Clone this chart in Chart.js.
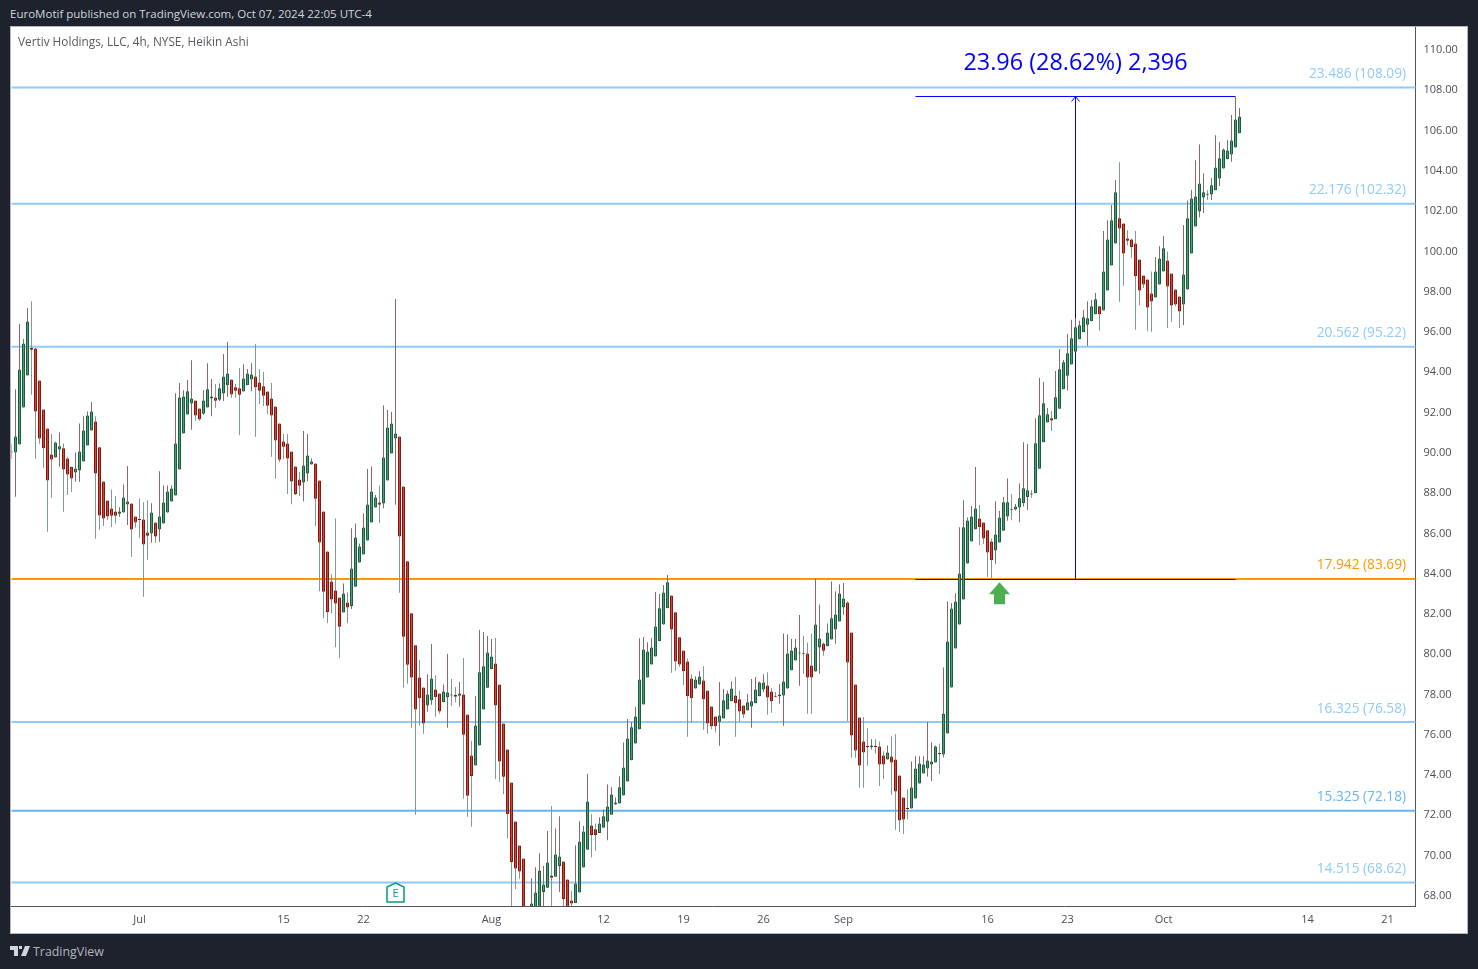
<!DOCTYPE html>
<html>
<head>
<meta charset="utf-8">
<title>Vertiv Holdings, LLC, 4h, NYSE, Heikin Ashi</title>
<script src="https://cdn.jsdelivr.net/npm/chart.js@4"></script>
<style>
  html, body { margin: 0; padding: 0; background: #1e222d; width: 1478px; height: 969px; overflow: hidden; }
  body { font-family: "Open Sans", "Noto Sans", sans-serif; position: relative; }
  #cabecalho { position: absolute; left: 10px; top: 6px; font-size: 11.53px; line-height: 16px; color: #d1d4dc; white-space: nowrap; }
  #quadro { position: absolute; left: 10px; top: 26px; width: 1456px; height: 906px; border: 1px solid #b2b5be; background: #fff; }
  #grafico { display: block; }
  #simbolo { position: absolute; left: 7px; top: 6px; font-size: 11.8px; line-height: 16px; color: #555963; white-space: nowrap; }
  #rodape { position: absolute; left: 10px; top: 944px; height: 16px; color: #b2b5be; font-size: 12.4px; line-height: 16px; white-space: nowrap; }
  #rodape svg { position: absolute; left: 0; top: 2px; }
  #rodape span { position: absolute; left: 23px; top: 0; }
</style>
</head>
<body>
<div id="cabecalho">EuroMotif published on TradingView.com, Oct 07, 2024 22:05 UTC-4</div>
<div id="quadro">
  <canvas id="grafico" width="1456" height="906"></canvas>
  <div id="simbolo">Vertiv Holdings, LLC, 4h, NYSE, Heikin Ashi</div>
</div>
<div id="rodape">
  <svg width="20" height="10" viewBox="0 0 20 10"><path d="M0 0h8v10H4V4H0zM9 0h3v3H9zM15 0h5l-4 10h-5z" fill="#d1d4dc"/></svg>
  <span>TradingView</span>
</div>
<script>
// Heikin Ashi candles (one per 4h bar)
const opens = [
  89.97,89.97,90.36,92.20,93.79,95.15,95.13,93.54,92.10,91.16,
  89.87,89.72,90.12,90.17,89.67,89.26,88.97,89.07,89.52,90.31,
  91.06,91.51,90.22,88.53,87.58,87.19,87.04,86.92,86.99,87.38,
  87.43,86.79,86.65,86.64,85.99,85.94,86.49,86.14,86.44,86.99,
  87.53,87.83,89.12,90.91,91.85,92.40,92.55,92.15,91.89,92.20,
  92.65,92.70,92.58,92.90,93.30,93.59,93.20,93.15,92.99,93.30,
  93.59,93.74,93.44,93.25,92.99,92.65,92.25,91.41,90.51,90.41,
  90.02,89.27,88.63,88.48,88.92,89.37,89.42,88.58,87.04,85.05,
  83.56,83.11,82.76,82.02,82.52,82.35,83.30,84.50,84.90,85.60,
  86.49,87.24,87.48,87.43,88.58,89.92,90.66,90.76,88.28,84.56,
  81.98,80.39,78.80,78.30,77.41,77.66,78.20,78.00,77.56,77.81,
  77.92,77.92,77.89,77.95,76.96,74.92,74.43,75.42,77.21,78.29,
  79.20,79.49,78.45,76.51,75.22,73.58,71.65,70.45,69.81,67.30,
  66.80,67.00,67.30,68.15,68.35,68.96,68.90,69.44,69.66,68.77,
  67.72,67.60,68.12,69.36,70.24,71.45,71.26,71.08,71.33,71.63,
  71.98,72.49,72.54,72.94,73.63,74.68,75.52,76.22,77.46,78.80,
  79.44,79.84,80.59,81.43,82.23,82.87,82.03,80.79,80.14,79.59,
  78.75,78.25,78.45,78.65,78.15,77.36,76.86,76.60,76.76,77.21,
  77.61,77.90,77.71,77.41,77.16,77.36,77.51,77.86,78.20,78.40,
  78.10,77.87,77.86,77.90,78.25,79.15,79.64,79.99,79.98,79.99,
  79.39,79.09,80.29,80.48,80.34,80.68,81.18,81.58,82.27,82.52,
  81.03,78.45,76.81,75.62,75.40,75.35,75.39,75.37,74.92,74.72,
  74.87,74.72,73.93,72.84,72.30,72.29,72.79,73.53,74.03,74.28,
  74.47,74.57,75.04,74.97,76.01,78.30,80.24,81.43,82.67,84.46,
  85.55,86.15,86.69,86.49,86.10,85.55,85.10,85.50,86.08,86.79,
  87.15,87.14,87.24,87.44,87.76,87.93,87.94,89.16,90.47,91.46,
  91.66,91.61,92.14,93.10,93.78,94.34,94.97,95.59,95.93,96.31,
  96.48,96.83,97.23,97.02,98.01,99.25,100.34,101.59,101.34,100.59,
  100.54,100.34,99.55,98.75,98.56,97.86,97.66,98.31,98.95,99.50,
  98.85,98.06,97.71,97.31,98.06,99.85,101.19,101.93,102.63,102.79,
  102.78,102.98,103.57,104.07,104.52,104.76,105.11,105.81
];
const closes = [
  90.00,90.76,94.09,95.38,96.47,95.07,92.00,90.66,90.17,88.58,
  89.62,90.46,90.27,89.12,88.87,88.68,89.17,90.02,91.06,91.80,
  92.00,88.92,86.84,86.69,86.79,86.82,86.82,87.04,87.73,87.53,
  86.14,86.49,86.61,85.40,85.83,86.99,85.80,86.79,87.48,88.03,
  88.18,90.41,92.70,92.75,93.00,92.65,91.80,91.61,92.55,93.10,
  92.75,92.53,93.15,93.74,93.89,92.85,93.03,92.83,93.64,93.89,
  93.84,93.20,93.03,92.78,92.28,91.80,90.56,89.60,90.25,89.67,
  88.53,87.91,88.31,89.32,89.82,89.52,87.67,85.50,83.05,82.05,
  82.67,82.47,81.31,82.96,82.27,84.20,85.75,85.30,86.24,87.38,
  88.03,87.73,87.37,89.72,91.21,91.41,90.91,85.80,80.82,79.43,
  78.80,77.21,77.76,76.51,77.95,78.75,77.81,77.11,78.10,78.05,
  77.90,77.84,78.00,75.95,72.92,73.91,76.41,79.05,79.35,80.04,
  79.84,77.41,74.63,73.87,72.00,69.64,69.31,69.16,67.00,66.60,
  67.57,68.12,69.21,68.52,69.61,68.85,70.01,69.91,67.80,67.30,
  67.57,68.57,70.65,71.15,72.64,70.98,70.98,71.55,71.90,72.39,
  72.99,72.59,73.34,74.33,75.77,76.32,76.86,78.70,80.19,80.09,
  80.29,81.33,82.23,83.02,83.52,81.18,79.59,79.44,79.10,77.86,
  77.76,78.70,78.85,77.71,76.51,76.37,76.37,76.91,77.66,78.00,
  78.25,77.51,77.11,76.96,77.56,77.61,78.20,78.55,78.55,77.80,
  77.61,77.84,77.95,78.60,79.99,80.14,80.29,80.04,79.95,78.80,
  78.80,81.43,80.73,80.12,81.03,81.73,81.92,82.97,82.72,79.54,
  75.91,75.17,74.42,75.07,75.35,75.42,75.35,74.47,74.47,75.07,
  74.57,73.13,71.69,71.74,72.27,73.33,74.28,74.52,74.47,74.67,
  74.62,75.37,75.00,77.00,80.58,82.22,82.57,83.96,86.25,86.59,
  86.79,87.19,86.25,85.70,85.00,84.61,85.90,86.74,87.49,87.49,
  87.12,87.29,87.69,88.19,88.09,87.88,90.42,91.81,92.41,91.86,
  91.55,92.71,94.10,94.44,94.89,95.64,96.18,96.28,96.68,96.63,
  97.23,97.57,96.83,98.95,100.54,101.49,102.88,101.09,99.85,100.48,
  100.15,98.71,98.01,98.31,97.17,97.46,98.95,99.60,100.10,98.21,
  97.26,97.31,96.97,98.80,101.59,102.58,102.68,103.32,102.88,102.76,
  103.23,104.12,104.57,105.01,104.96,105.46,106.50,106.65
];
const highs = [
  90.38,93.11,96.34,95.60,97.14,97.48,95.15,93.54,92.10,91.16,
  90.88,90.50,90.96,90.41,89.75,89.26,89.97,91.41,91.77,92.00,
  92.47,91.77,90.22,88.53,87.58,88.13,87.80,87.25,88.38,89.29,
  87.43,86.79,87.68,87.50,87.60,87.44,86.49,89.04,88.33,88.33,
  88.33,92.91,93.41,93.06,93.56,94.55,92.55,92.15,93.06,94.39,
  93.61,93.36,93.39,94.85,95.45,93.59,93.36,94.16,94.35,94.11,
  94.40,95.35,94.11,93.96,92.99,93.41,92.25,91.41,90.88,90.88,
  90.02,89.27,89.00,91.03,90.88,89.67,89.42,88.58,87.04,85.05,
  83.92,86.69,82.76,83.46,83.01,86.21,86.44,85.45,86.94,89.14,
  89.27,87.85,88.33,92.30,92.07,91.97,97.58,90.76,88.28,84.56,
  81.98,80.39,79.66,78.30,78.95,80.46,78.91,78.00,78.45,79.96,
  78.72,78.32,78.57,79.76,76.96,75.64,77.87,81.15,81.05,80.85,
  80.70,80.75,78.45,76.51,75.22,73.58,71.65,70.45,69.81,67.30,
  68.83,69.38,70.07,69.43,71.17,72.41,71.30,71.91,69.66,68.77,
  68.20,70.47,71.66,71.42,74.00,72.00,71.55,71.86,72.24,73.48,
  73.34,72.84,73.88,75.57,76.73,76.58,77.33,80.74,80.80,80.55,
  80.75,83.04,82.94,83.39,83.88,82.87,82.03,80.79,80.14,79.74,
  78.96,78.86,79.11,79.35,78.15,77.36,76.86,78.57,78.22,78.15,
  78.60,78.82,78.15,77.41,77.97,78.72,78.82,78.60,78.96,79.06,
  78.27,78.07,78.47,80.98,80.93,80.70,80.70,81.90,80.85,80.53,
  80.98,83.71,82.42,80.53,81.48,83.56,83.08,83.43,83.48,82.57,
  81.03,78.45,76.81,76.83,76.28,75.73,75.73,75.62,75.12,75.42,
  75.87,75.98,73.93,72.84,73.25,74.62,74.89,74.89,74.89,76.58,
  75.58,75.42,75.52,79.29,82.57,82.49,82.98,86.26,87.60,86.74,
  87.31,89.25,87.36,86.49,86.10,85.70,87.55,87.06,87.75,88.68,
  87.90,87.41,88.43,90.47,90.39,88.10,91.66,93.67,93.47,92.18,
  92.03,94.01,95.10,94.56,95.85,96.55,96.63,96.50,97.04,97.47,
  97.54,97.89,97.23,100.96,101.50,102.25,103.49,104.38,101.34,101.00,
  100.59,100.96,99.55,98.75,98.56,98.95,99.67,100.21,100.71,99.95,
  98.85,98.06,97.71,101.26,102.48,103.00,104.48,105.26,103.82,102.98,
  103.59,105.72,105.38,105.06,105.48,106.72,107.65,107.07
];
const lows = [
  89.64,87.77,90.36,92.20,93.79,92.83,89.65,90.40,89.21,86.03,
  87.72,89.72,89.26,87.02,87.86,88.00,88.51,88.51,89.52,90.31,
  91.06,85.68,86.13,86.32,86.61,86.27,86.44,86.77,86.99,86.37,
  84.79,86.23,85.73,82.80,84.64,85.48,85.48,85.53,86.44,86.99,
  87.53,87.83,89.12,90.91,91.85,91.09,91.54,91.54,91.84,92.20,
  91.77,92.19,92.52,92.52,92.73,92.67,92.68,90.84,92.99,93.30,
  93.01,90.75,92.37,92.27,91.87,89.75,88.66,89.49,89.64,87.90,
  87.40,87.85,87.80,87.55,88.54,89.37,86.31,83.08,81.74,81.49,
  81.99,80.30,79.75,82.02,81.49,82.19,83.30,84.50,84.90,85.60,
  86.49,87.24,86.47,87.20,88.58,89.92,87.37,83.00,78.29,78.48,
  76.30,71.98,76.41,76.00,77.09,77.44,76.85,77.00,77.56,76.30,
  77.39,77.56,77.34,72.77,71.88,71.38,74.43,75.42,77.21,78.29,
  79.20,73.75,73.62,73.00,70.80,67.40,68.30,68.80,66.80,66.50,
  66.80,67.00,67.30,67.44,68.35,67.40,68.90,68.15,67.40,67.20,
  67.40,67.60,68.12,69.36,70.24,69.87,70.19,71.08,71.33,70.72,
  71.98,72.49,72.54,72.94,73.63,74.68,75.52,76.22,77.46,78.80,
  79.44,79.84,80.59,81.43,82.23,79.03,79.13,79.33,78.42,75.85,
  76.55,78.25,78.45,76.20,76.00,76.22,76.07,75.40,76.76,77.21,
  77.61,75.85,76.60,76.78,77.16,76.30,77.51,77.86,78.07,76.94,
  77.04,77.80,77.49,76.40,78.25,79.15,79.64,78.39,78.98,76.99,
  76.99,79.09,78.98,79.87,80.34,80.68,80.47,81.58,81.91,76.64,
  74.81,74.81,73.32,73.32,74.41,75.22,75.02,73.41,73.75,74.72,
  72.97,71.23,71.13,71.03,71.74,72.29,72.79,73.53,74.03,73.88,
  73.66,74.57,74.00,74.82,76.01,78.30,80.24,81.43,82.67,84.46,
  85.55,86.15,85.37,85.42,83.80,83.73,84.44,85.50,86.08,86.58,
  86.60,87.08,86.50,87.27,87.11,87.72,87.94,89.16,90.47,91.46,
  91.03,91.61,92.14,93.10,93.04,94.34,94.97,95.59,95.93,95.25,
  96.48,96.83,96.02,97.02,98.01,99.25,100.34,97.45,98.24,100.26,
  99.63,96.06,97.28,98.13,95.99,95.96,97.66,98.31,98.95,96.14,
  96.44,97.23,96.14,96.29,98.06,99.85,101.19,101.65,101.85,102.50,
  102.50,102.98,103.19,104.07,104.52,104.40,105.11,105.81
];

// Eixos
const totalBarras = 352; // inclui o espaco vazio a direita do ultimo candle
const barrasMarcadas = [32, 68, 88, 120, 148, 168, 188, 208, 244, 264, 288, 324, 344];
const rotulosTempo = ['Jul', '15', '22', 'Aug', '12', '19', '26', 'Sep', '16', '23', 'Oct', '14', '21'];
const ticksPreco = [68, 70, 72, 74, 76, 78, 80, 82, 84, 86, 88, 90, 92, 94, 96, 98, 100, 102, 104, 106, 108, 110];

// Niveis horizontais
const niveisPreco = [108.09, 102.32, 95.22, 83.69, 76.58, 72.18, 68.62];
const niveisRotulo = ['23.486 (108.09)', '22.176 (102.32)', '20.562 (95.22)', '17.942 (83.69)', '16.325 (76.58)', '15.325 (72.18)', '14.515 (68.62)'];
const niveisCor = ['#90caf9', '#90caf9', '#90caf9', '#ff9800', '#90caf9', '#64b5f6', '#90caf9'];

// Ferramenta de medicao
const medidaBarras = [226, 306, 266];
const medidaPrecos = [83.66, 107.64];
const medidaTexto = '23.96 (28.62%) 2,396';

// Marcadores
const barraSeta = 247;
const precoSeta = 83.52;
const barraEarnings = 96;

const barras = Array.from({ length: totalBarras }, (_, i) => i);
const sobe = i => closes[i] >= opens[i];

const datasets = [
  {
    // corpo dos candles
    data: opens.map((o, i) => [o, closes[i]]),
    order: 1,
    barThickness: 3,
    borderWidth: 1,
    borderSkipped: false,
    inflateAmount: 0,
    minBarLength: 1,
    backgroundColor: ctx => sobe(ctx.dataIndex) ? '#519c78' : '#dc4433',
    borderColor: ctx => sobe(ctx.dataIndex) ? '#1b5c3e' : '#7c1a12'
  },
  {
    // pavios: a cor e sempre a oposta do corpo
    data: lows.map((l, i) => [l, highs[i]]),
    order: 2,
    barThickness: 1,
    borderWidth: 0,
    inflateAmount: 0,
    backgroundColor: ctx => sobe(ctx.dataIndex) ? '#8b6768' : '#7f9a90'
  }
];

niveisPreco.forEach((preco, n) => {
  datasets.push({
    type: 'line',
    data: [{ x: 0, y: preco }, { x: totalBarras - 1, y: preco }],
    order: 4,
    borderColor: niveisCor[n],
    borderWidth: 2,
    pointRadius: 0
  });
});

const linhaMedida = pontos => ({
  type: 'line',
  data: pontos,
  order: 3,
  borderColor: '#0000ff',
  borderWidth: 1,
  pointRadius: 0
});
datasets.push(linhaMedida([{ x: medidaBarras[0], y: medidaPrecos[0] }, { x: medidaBarras[1], y: medidaPrecos[0] }]));
datasets.push(linhaMedida([{ x: medidaBarras[0], y: medidaPrecos[1] }, { x: medidaBarras[1], y: medidaPrecos[1] }]));
datasets.push(linhaMedida([{ x: medidaBarras[2], y: medidaPrecos[0] }, { x: medidaBarras[2], y: medidaPrecos[1] }]));

// Textos e marcadores que o Chart.js nao desenha sozinho
const anotacoes = {
  id: 'anotacoes',
  afterDatasetsDraw(chart) {
    const c = chart.ctx;
    const xs = chart.scales.x;
    const ys = chart.scales.y;
    const fonte = '"Open Sans", "Noto Sans", sans-serif';
    c.save();

    // rotulos dos niveis
    c.font = '13.7px ' + fonte;
    c.textAlign = 'right';
    c.textBaseline = 'alphabetic';
    niveisPreco.forEach((preco, n) => {
      c.fillStyle = niveisCor[n];
      c.fillText(niveisRotulo[n], chart.chartArea.right - 9.5, ys.getPixelForValue(preco) - 9.5);
    });

    // seta e texto da medicao
    const xm = xs.getPixelForValue(medidaBarras[2]);
    const ym = ys.getPixelForValue(medidaPrecos[1]);
    c.strokeStyle = '#0000ff';
    c.lineWidth = 1;
    c.beginPath();
    c.moveTo(xm - 4, ym + 5);
    c.lineTo(xm, ym);
    c.lineTo(xm + 4, ym + 5);
    c.stroke();
    c.fillStyle = '#0000ff';
    c.font = '23.4px ' + fonte;
    c.textAlign = 'center';
    c.fillText(medidaTexto, xm, ym - 26);

    // seta verde
    const xa = xs.getPixelForValue(barraSeta);
    const ya = ys.getPixelForValue(precoSeta);
    c.fillStyle = '#4caf50';
    c.beginPath();
    c.moveTo(xa, ya);
    c.lineTo(xa + 10.5, ya + 12);
    c.lineTo(xa + 5.5, ya + 12);
    c.lineTo(xa + 5.5, ya + 22);
    c.lineTo(xa - 5.5, ya + 22);
    c.lineTo(xa - 5.5, ya + 12);
    c.lineTo(xa - 10.5, ya + 12);
    c.closePath();
    c.fill();

    // marcador de earnings
    const xe = xs.getPixelForValue(barraEarnings);
    const be = chart.chartArea.bottom - 4;
    c.fillStyle = '#fff';
    c.strokeStyle = '#089981';
    c.lineWidth = 1.5;
    c.beginPath();
    c.moveTo(xe, be - 19);
    c.lineTo(xe + 8.5, be - 15);
    c.lineTo(xe + 8.5, be);
    c.lineTo(xe - 8.5, be);
    c.lineTo(xe - 8.5, be - 15);
    c.closePath();
    c.fill();
    c.stroke();
    c.fillStyle = '#089981';
    c.font = '11px ' + fonte;
    c.textAlign = 'center';
    c.textBaseline = 'middle';
    c.fillText('E', xe, be - 8);

    c.restore();
  }
};

new Chart(document.getElementById('grafico'), {
  type: 'bar',
  data: { labels: barras, datasets: datasets },
  options: {
    responsive: false,
    devicePixelRatio: 1,
    animation: false,
    grouped: false,
    layout: { autoPadding: false, padding: { left: 0.5 } },
    plugins: { legend: { display: false }, tooltip: { enabled: false }, title: { display: false } },
    scales: {
      x: {
        type: 'category',
        offset: false,
        grid: { display: false, drawTicks: false },
        border: { display: true, color: '#50535e', width: 1 },
        afterFit(escala) {
          escala.height = 27;
          escala.paddingLeft = 0;
          escala.paddingRight = 0;
        },
        ticks: {
          autoSkip: false,
          maxRotation: 0,
          padding: 7,
          color: '#4a4e58',
          font: { family: '"Open Sans", "Noto Sans", sans-serif', size: 11 },
          callback(valor) {
            const n = barrasMarcadas.indexOf(valor);
            return n >= 0 ? rotulosTempo[n] : '';
          }
        }
      },
      y: {
        type: 'linear',
        position: 'right',
        min: 67.45,
        max: 111.09,
        grid: { display: false, drawTicks: false },
        border: { display: true, color: '#50535e', width: 1 },
        afterFit(escala) {
          escala.width = 51.5;
          escala.paddingTop = 0;
          escala.paddingBottom = 0;
        },
        afterBuildTicks(escala) { escala.ticks = ticksPreco.map(v => ({ value: v })); },
        ticks: {
          padding: 8,
          labelOffset: 1,
          color: '#4a4e58',
          font: { family: '"Open Sans", "Noto Sans", sans-serif', size: 11 },
          callback: valor => valor.toFixed(2)
        }
      }
    }
  },
  plugins: [anotacoes]
});
</script>
</body>
</html>
